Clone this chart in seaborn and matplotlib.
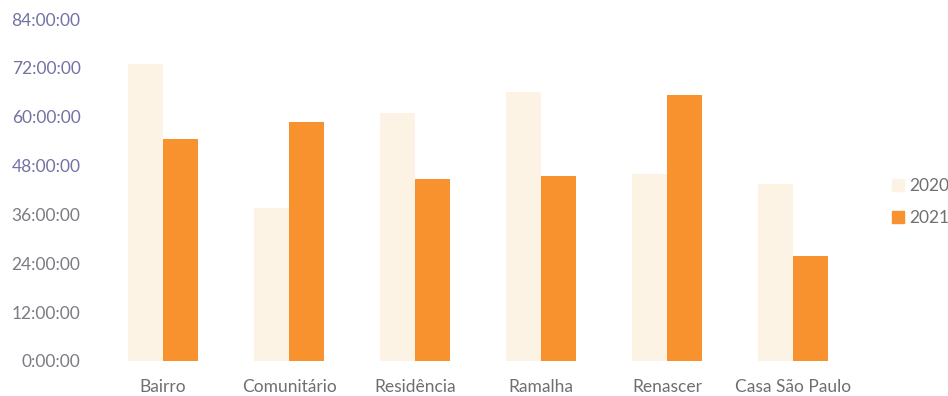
import matplotlib
matplotlib.use("Agg")
import matplotlib.pyplot as plt
import matplotlib.ticker as mticker
import seaborn as sns
import pandas as pd

# Hours per house, by year
categories = ["Bairro", "Comunitário", "Residência", "Ramalha", "Renascer", "Casa São Paulo"]
hours_2020 = [73.0, 37.5, 61.0, 66.0, 46.0, 43.5]
hours_2021 = [54.5, 58.7, 44.7, 45.5, 65.4, 25.8]
years = ["2020", "2021"]
y_ticks = [0, 12, 24, 36, 48, 60, 72, 84]

df = pd.DataFrame({
    "casa": categories * 2,
    "ano": [years[0]] * len(categories) + [years[1]] * len(categories),
    "horas": hours_2020 + hours_2021,
})

sns.set_theme(style="white")
plt.rcParams["font.family"] = ["Lato", "DejaVu Sans"]

fig = plt.figure(figsize=(9.48, 3.96), dpi=100)
ax = fig.add_axes([0.1055, 0.0884, 0.7975, 0.8636])

palette = {"2020": "#FDF3E4", "2021": "#F7922E"}
sns.barplot(data=df, x="casa", y="horas", hue="ano", palette=palette,
            width=0.56, gap=0, saturation=1, linewidth=0, ax=ax, legend=False)

ax.set_ylim(0, 84)
ax.set_xlim(-0.5, 5.5)
ax.set_yticks(y_ticks)
ax.yaxis.set_major_formatter(mticker.FuncFormatter(lambda v, p: f"{int(v)}:00:00"))
ax.set_xlabel("")
ax.set_ylabel("")
for s in ax.spines.values():
    s.set_visible(False)
ax.tick_params(axis="y", length=0, pad=14, labelsize=12.5)
ax.tick_params(axis="x", length=0, pad=13, labelsize=12.5, labelcolor="#6f6f6f")
for lab in ax.get_yticklabels():
    txt = lab.get_text()
    hrs = int(txt.split(":")[0]) if txt else 0
    lab.set_color("#7272A6" if hrs >= 48 else "#7b7b82")

handles = [plt.Rectangle((0, 0), 1, 1, color=palette[y]) for y in years]
ax.legend(handles, years, loc="center left", bbox_to_anchor=(0.941, 0.49),
          bbox_transform=fig.transFigure, frameon=False, fontsize=12.5,
          borderaxespad=0, borderpad=0,
          handlelength=0.7, handleheight=0.7, handletextpad=0.3,
          labelspacing=0.9, labelcolor="#707070")

fig.savefig("out.png", dpi=100, facecolor="white")
